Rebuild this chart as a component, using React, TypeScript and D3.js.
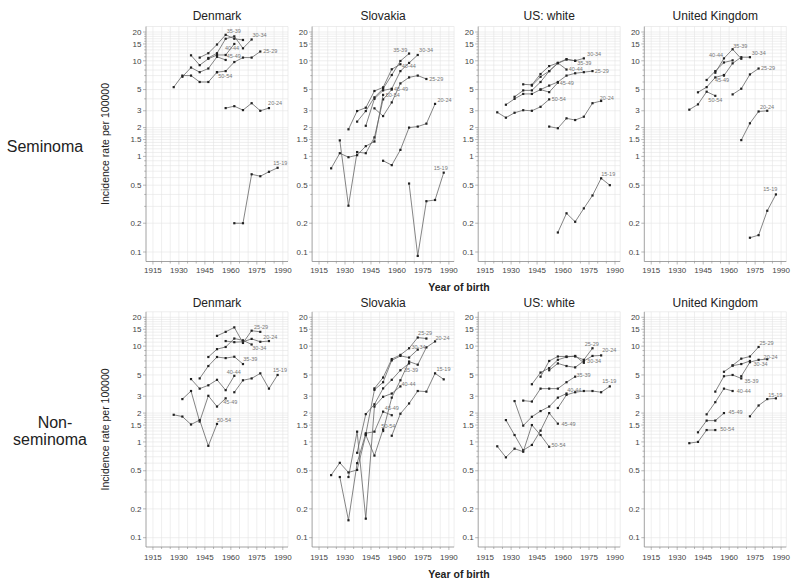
import React from "react";
import * as d3 from "d3";

type Series = { age: string; pts: [number, number][]; lab: [number, number] };

const countries = ["Denmark", "Slovakia", "US: white", "United Kingdom"];
const yTickValues = [0.1, 0.2, 0.5, 1, 1.5, 2, 3, 5, 10, 15, 20];
const xTickValues = [1915, 1930, 1945, 1960, 1975, 1990];
const xGridValues = [1915, 1920, 1925, 1930, 1935, 1940, 1945, 1950, 1955, 1960, 1965, 1970, 1975, 1980, 1985, 1990];
const yGridValues = [
  0.1, 0.2, 0.3, 0.4, 0.5, 0.6, 0.7, 0.8, 0.9, 1, 1.1, 1.2, 1.3, 1.4, 1.5, 1.6, 1.7, 1.8, 1.9, 2,
  3, 4, 5, 6, 7, 8, 9, 10, 11, 12, 13, 14, 15, 16, 17, 18, 19, 20,
];

// ---------- Seminoma ----------
const denmarkSem: Series[] = [
  { age: "15-19", pts: [[1962, 0.2], [1967, 0.2], [1972, 0.65], [1977, 0.62], [1982, 0.69], [1987, 0.76]], lab: [1984.5, 0.86] },
  { age: "20-24", pts: [[1957, 3.2], [1962, 3.35], [1967, 3.05], [1972, 3.6], [1977, 3.0], [1982, 3.2]], lab: [1981.5, 3.6] },
  { age: "25-29", pts: [[1952, 7.6], [1957, 7.8], [1962, 9.7], [1967, 10.8], [1972, 10.8], [1977, 12.5]], lab: [1978.7, 12.7] },
  { age: "30-34", pts: [[1947, 10.7], [1952, 12.0], [1957, 17], [1962, 18], [1967, 13.5], [1972, 16.7]], lab: [1972.5, 18.7] },
  { age: "35-39", pts: [[1942, 10.8], [1947, 12], [1952, 14.8], [1957, 18.7], [1962, 17.0], [1967, 16.5]], lab: [1957.6, 20.6] },
  { age: "40-44", pts: [[1937, 11.4], [1942, 9.0], [1947, 10.5], [1952, 11.5], [1957, 11.5], [1962, 15]], lab: [1956.6, 13.7] },
  { age: "45-49", pts: [[1932, 6.8], [1937, 8.5], [1942, 7.6], [1947, 8.3], [1952, 11], [1957, 10.2]], lab: [1957.6, 11.1] },
  { age: "50-54", pts: [[1927, 5.3], [1932, 7.0], [1937, 7.0], [1942, 6.0], [1947, 6.0], [1952, 7.6]], lab: [1952.7, 7.0] },
];

const slovakiaSem: Series[] = [
  { age: "15-19", pts: [[1967, 0.52], [1972, 0.091], [1977, 0.34], [1982, 0.35], [1987, 0.676]], lab: [1981.2, 0.75] },
  { age: "20-24", pts: [[1952, 0.9], [1957, 0.81], [1962, 1.17], [1967, 2.0], [1972, 2.05], [1977, 2.2], [1982, 3.54]], lab: [1983.4, 3.9] },
  { age: "25-29", pts: [[1947, 3.18], [1952, 2.64], [1957, 3.67], [1962, 5.8], [1967, 6.7], [1972, 7.0], [1977, 6.45]], lab: [1978.6, 6.4] },
  { age: "30-34", pts: [[1942, 2.09], [1947, 4.0], [1952, 4.9], [1957, 5.1], [1962, 7.8], [1967, 9.5], [1972, 11.5]], lab: [1972.8, 13] },
  { age: "35-39", pts: [[1937, 2.31], [1942, 2.98], [1947, 4.15], [1952, 5.1], [1957, 7.1], [1962, 9.95], [1967, 11.9]], lab: [1957.8, 13] },
  { age: "40-44", pts: [[1932, 1.92], [1937, 2.98], [1942, 3.23], [1947, 4.83], [1952, 5.27], [1957, 8.15], [1962, 9.2]], lab: [1962.8, 8.9] },
  { age: "45-49", pts: [[1927, 1.47], [1932, 0.305], [1937, 1.11], [1942, 1.08], [1947, 1.58], [1952, 3.95], [1957, 5.0]], lab: [1958.3, 5.0] },
  { age: "50-54", pts: [[1922, 0.75], [1927, 1.08], [1932, 0.98], [1937, 1.03], [1942, 1.28], [1947, 1.43], [1952, 4.4]], lab: [1953.5, 4.4] },
];

const usSem: Series[] = [
  { age: "15-19", pts: [[1957, 0.16], [1962, 0.254], [1967, 0.207], [1972, 0.286], [1977, 0.39], [1982, 0.59], [1987, 0.5]], lab: [1982, 0.65] },
  { age: "20-24", pts: [[1952, 2.05], [1957, 1.97], [1962, 2.5], [1967, 2.4], [1972, 2.6], [1977, 3.6], [1982, 3.8]], lab: [1981.2, 4.1] },
  { age: "25-29", pts: [[1947, 5.0], [1952, 5.5], [1957, 6.0], [1962, 7.0], [1967, 7.4], [1972, 7.6], [1977, 7.8]], lab: [1978.3, 7.8] },
  { age: "30-34", pts: [[1942, 5.5], [1947, 6.8], [1952, 7.8], [1957, 9.4], [1962, 10.3], [1967, 10.0], [1972, 10.6]], lab: [1973.9, 11.7] },
  { age: "35-39", pts: [[1937, 5.67], [1942, 5.6], [1947, 7.27], [1952, 8.8], [1957, 9.5], [1962, 10.4], [1967, 10.0]], lab: [1968.2, 9.4] },
  { age: "40-44", pts: [[1932, 4.2], [1937, 4.9], [1942, 4.9], [1947, 6.0], [1952, 7.8], [1957, 9.5], [1962, 8.1]], lab: [1963.3, 8.2] },
  { age: "45-49", pts: [[1927, 3.47], [1932, 4.0], [1937, 4.5], [1942, 4.5], [1947, 5.0], [1952, 4.7], [1957, 5.9]], lab: [1958.1, 5.9] },
  { age: "50-54", pts: [[1922, 2.89], [1927, 2.54], [1932, 2.86], [1937, 3.04], [1942, 3.0], [1947, 3.3], [1952, 3.95]], lab: [1953.5, 4.0] },
];

const ukSem: Series[] = [
  { age: "15-19", pts: [[1972, 0.141], [1977, 0.15], [1982, 0.27], [1987, 0.4]], lab: [1979.7, 0.45] },
  { age: "20-24", pts: [[1967, 1.48], [1972, 2.22], [1977, 2.95], [1982, 3.0]], lab: [1977.8, 3.3] },
  { age: "25-29", pts: [[1962, 4.45], [1967, 5.1], [1972, 7.2], [1977, 8.3]], lab: [1978.4, 8.3] },
  { age: "30-34", pts: [[1957, 7.0], [1962, 9.4], [1967, 10.9], [1972, 10.9]], lab: [1973, 11.9] },
  { age: "35-39", pts: [[1952, 7.5], [1957, 10.6], [1962, 13.2], [1967, 10.5]], lab: [1962.4, 14.3] },
  { age: "40-44", pts: [[1947, 6.3], [1952, 7.8], [1957, 9.6], [1962, 10.1]], lab: [1948.4, 11.5] },
  { age: "45-49", pts: [[1942, 4.68], [1947, 5.3], [1952, 6.7], [1957, 7.1]], lab: [1951.8, 6.3] },
  { age: "50-54", pts: [[1937, 3.08], [1942, 3.5], [1947, 4.75], [1952, 4.3]], lab: [1948, 3.9] },
];

// ---------- Non-seminoma ----------
const denmarkNon: Series[] = [
  { age: "15-19", pts: [[1962, 3.3], [1967, 4.4], [1972, 4.6], [1977, 5.2], [1982, 3.6], [1987, 5.0]], lab: [1984.3, 5.6] },
  { age: "20-24", pts: [[1957, 11.3], [1962, 11.0], [1967, 11.1], [1972, 11.9], [1977, 11.1], [1982, 11.3]], lab: [1978.7, 12.5] },
  { age: "25-29", pts: [[1952, 12.8], [1957, 14.1], [1962, 15.7], [1967, 10.8], [1972, 14.5], [1977, 14.1]], lab: [1973.4, 16.0] },
  { age: "30-34", pts: [[1947, 7.7], [1952, 9.3], [1957, 9.8], [1962, 12.0], [1967, 11.5], [1972, 10.4]], lab: [1972.4, 9.5] },
  { age: "35-39", pts: [[1942, 4.6], [1947, 6.2], [1952, 7.7], [1957, 7.5], [1962, 7.75], [1967, 6.5]], lab: [1967.2, 7.3] },
  { age: "40-44", pts: [[1937, 4.53], [1942, 3.6], [1947, 3.9], [1952, 4.45], [1957, 3.47], [1962, 4.9]], lab: [1957.6, 5.3] },
  { age: "45-49", pts: [[1932, 2.8], [1937, 3.4], [1942, 1.63], [1947, 3.03], [1952, 2.34], [1957, 2.85]], lab: [1955.6, 2.6] },
  { age: "50-54", pts: [[1927, 1.92], [1932, 1.84], [1937, 1.52], [1942, 1.69], [1947, 0.91], [1952, 1.54]], lab: [1952, 1.68] },
];

const slovakiaNon: Series[] = [
  { age: "15-19", pts: [[1957, 1.16], [1962, 1.97], [1967, 2.52], [1972, 3.4], [1977, 3.35], [1982, 5.2], [1987, 4.5]], lab: [1982.8, 5.7] },
  { age: "20-24", pts: [[1952, 1.3], [1957, 2.9], [1962, 4.4], [1967, 6.9], [1972, 6.4], [1977, 9.7], [1982, 11.2]], lab: [1982.2, 12.0] },
  { age: "25-29", pts: [[1947, 3.62], [1952, 4.7], [1957, 7.33], [1962, 8.1], [1967, 9.5], [1972, 12.3], [1977, 12.0]], lab: [1972.2, 13.8] },
  { age: "30-34", pts: [[1942, 1.2], [1947, 3.5], [1952, 4.2], [1957, 7.1], [1962, 7.9], [1967, 7.6], [1972, 9.2]], lab: [1968.4, 9.8] },
  { age: "35-39", pts: [[1937, 0.77], [1942, 1.95], [1947, 2.47], [1952, 3.62], [1957, 4.45], [1962, 5.6], [1967, 6.6]], lab: [1964.1, 5.6] },
  { age: "40-44", pts: [[1932, 0.43], [1937, 1.28], [1942, 0.158], [1947, 2.34], [1952, 2.96], [1957, 3.2], [1962, 3.8]], lab: [1962.6, 4.0] },
  { age: "45-49", pts: [[1927, 0.43], [1932, 0.152], [1937, 0.6], [1942, 1.23], [1947, 1.28], [1952, 2.07], [1957, 1.9]], lab: [1953, 2.25] },
  { age: "50-54", pts: [[1922, 0.45], [1927, 0.605], [1932, 0.48], [1937, 0.51], [1942, 1.18], [1947, 0.72], [1952, 1.35]], lab: [1951, 1.46] },
];

const usNon: Series[] = [
  { age: "15-19", pts: [[1957, 2.26], [1962, 3.1], [1967, 3.3], [1972, 3.4], [1977, 3.4], [1982, 3.3], [1987, 3.8]], lab: [1982.6, 4.3] },
  { age: "20-24", pts: [[1952, 5.6], [1957, 6.6], [1962, 6.2], [1967, 6.0], [1972, 7.0], [1977, 7.9], [1982, 8.0]], lab: [1982.6, 9.0] },
  { age: "25-29", pts: [[1947, 4.8], [1952, 7.0], [1957, 7.8], [1962, 7.8], [1967, 7.8], [1972, 7.2], [1977, 9.5]], lab: [1972.5, 10.5] },
  { age: "30-34", pts: [[1942, 4.0], [1947, 5.3], [1952, 5.9], [1957, 7.2], [1962, 7.7], [1967, 7.9], [1972, 6.7]], lab: [1973.9, 7.0] },
  { age: "35-39", pts: [[1937, 2.7], [1942, 2.64], [1947, 3.6], [1952, 3.6], [1957, 3.6], [1962, 4.2], [1967, 4.8]], lab: [1967.8, 5.0] },
  { age: "40-44", pts: [[1932, 2.67], [1937, 1.48], [1942, 1.83], [1947, 2.1], [1952, 2.34], [1957, 2.9], [1962, 3.2]], lab: [1962.4, 3.5] },
  { age: "45-49", pts: [[1927, 1.69], [1932, 1.18], [1937, 0.82], [1942, 0.93], [1947, 1.31], [1952, 2.0], [1957, 1.55]], lab: [1959.1, 1.53] },
  { age: "50-54", pts: [[1922, 0.9], [1927, 0.69], [1932, 0.85], [1937, 0.79], [1942, 1.5], [1947, 1.18], [1952, 0.89]], lab: [1953.3, 0.93] },
];

const ukNon: Series[] = [
  { age: "15-19", pts: [[1972, 1.85], [1977, 2.4], [1982, 2.8], [1987, 2.85]], lab: [1982.6, 3.1] },
  { age: "20-24", pts: [[1967, 4.85], [1972, 6.8], [1977, 7.2], [1982, 7.3]], lab: [1979.9, 7.7] },
  { age: "25-29", pts: [[1962, 6.3], [1967, 7.4], [1972, 7.8], [1977, 9.8]], lab: [1977.5, 10.8] },
  { age: "30-34", pts: [[1957, 5.4], [1962, 6.25], [1967, 6.5], [1972, 7.0]], lab: [1974.1, 6.5] },
  { age: "35-39", pts: [[1952, 3.35], [1957, 4.85], [1962, 5.0], [1967, 4.6]], lab: [1968.8, 4.35] },
  { age: "40-44", pts: [[1947, 1.94], [1952, 2.6], [1957, 3.6], [1962, 3.4]], lab: [1964.4, 3.4] },
  { age: "45-49", pts: [[1942, 1.26], [1947, 1.67], [1952, 1.67], [1957, 2.0]], lab: [1959.6, 2.06] },
  { age: "50-54", pts: [[1937, 0.97], [1942, 1.0], [1947, 1.33], [1952, 1.33]], lab: [1954.8, 1.36] },
];

const seminomaPanels = [denmarkSem, slovakiaSem, usSem, ukSem];
const nonSeminomaPanels = [denmarkNon, slovakiaNon, usNon, ukNon];

// ---------- layout ----------
const W = 800;
const H = 586;
const FONT = "'Liberation Sans', Arial, Helvetica, sans-serif";
const panelLeft0 = 146;
const panelStep = 166.1;
const panelW = 142;
const rowsLayout = [
  { y01: 252, y20: 32, top: 26.5, bottom: 261.5, title: 20, xlab: 272.5, yob: 291 },
  { y01: 537.7, y20: 317.3, top: 311.8, bottom: 547, title: 307, xlab: 559.5, yob: 578 },
];

function Panel({ row, col, data }: { row: number; col: number; data: Series[] }) {
  const L = rowsLayout[row];
  const left = panelLeft0 + col * panelStep;
  const right = left + panelW;
  const xs = d3.scaleLinear().domain([1911, 1993]).range([left, right]);
  const ys = d3.scaleLog().domain([0.1, 20]).range([L.y01, L.y20]);
  const line = d3
    .line<[number, number]>()
    .x((d) => xs(d[0]))
    .y((d) => ys(d[1]));
  const cx = (left + right) / 2;
  return (
    <g>
      <text x={cx} y={L.title} textAnchor="middle" fontSize={12} fill="#222" fontFamily={FONT}>
        {countries[col]}
      </text>
      {/* grid */}
      {yGridValues.map((v) => (
        <line key={"gy" + v} x1={left} x2={right} y1={ys(v)} y2={ys(v)} stroke="#e4e4e4" strokeWidth={0.6} />
      ))}
      {xGridValues.map((v) => (
        <line key={"gx" + v} x1={xs(v)} x2={xs(v)} y1={L.top} y2={L.bottom} stroke="#e4e4e4" strokeWidth={0.6} />
      ))}
      <line x1={left} x2={right} y1={L.top} y2={L.top} stroke="#e0e0e0" strokeWidth={0.6} />
      <line x1={right} x2={right} y1={L.top} y2={L.bottom} stroke="#e0e0e0" strokeWidth={0.6} />
      {/* axes */}
      <line x1={left} x2={left} y1={L.top} y2={L.bottom} stroke="#8a8a8a" strokeWidth={0.8} />
      <line x1={left} x2={right} y1={L.bottom} y2={L.bottom} stroke="#8a8a8a" strokeWidth={0.8} />
      {yGridValues.map((v) => (
        <line key={"ty" + v} x1={left - (yTickValues.includes(v) ? 3 : 1.8)} x2={left} y1={ys(v)} y2={ys(v)} stroke="#8a8a8a" strokeWidth={0.6} />
      ))}
      {yTickValues.map((v) => (
        <text key={"ly" + v} x={left - 4.5} y={ys(v)} dy="0.34em" textAnchor="end" fontSize={8} fill="#444" fontFamily={FONT}>
          {String(v)}
        </text>
      ))}
      {xGridValues.map((v) => (
        <line key={"tx" + v} x1={xs(v)} x2={xs(v)} y1={L.bottom} y2={L.bottom + (xTickValues.includes(v) ? 3 : 2)} stroke="#8a8a8a" strokeWidth={0.6} />
      ))}
      {xTickValues.map((v) => (
        <text key={"lx" + v} x={xs(v)} y={L.xlab} textAnchor="middle" fontSize={8} fill="#444" fontFamily={FONT}>
          {String(v)}
        </text>
      ))}
      {/* series */}
      {data.map((s) => (
        <g key={s.age}>
          <path d={line(s.pts) || ""} fill="none" stroke="#666" strokeWidth={0.8} />
          {s.pts.map((p, i) => (
            <rect key={i} x={xs(p[0]) - 1.1} y={ys(p[1]) - 1.1} width={2.2} height={2.2} fill="#222" />
          ))}
          <text x={xs(s.lab[0])} y={ys(s.lab[1])} dy="0.35em" fontSize={5.5} fill="#777" fontFamily={FONT}>
            {s.age}
          </text>
        </g>
      ))}
    </g>
  );
}

export default function App() {
  return (
    <svg width={W} height={H} style={{ display: "block", position: "absolute", left: 0, top: 0, background: "#fff" }}>
      <rect x={0} y={0} width={W} height={H} fill="#fff" />
      {seminomaPanels.map((d, i) => (
        <Panel key={"s" + i} row={0} col={i} data={d} />
      ))}
      {nonSeminomaPanels.map((d, i) => (
        <Panel key={"n" + i} row={1} col={i} data={d} />
      ))}
      {/* row labels */}
      <text x={45} y={146} dy="0.35em" textAnchor="middle" fontSize={16} fill="#222" fontFamily={FONT}>
        Seminoma
      </text>
      <text x={55} y={422.7} dy="0.35em" textAnchor="middle" fontSize={16} fill="#222" fontFamily={FONT}>
        Non-
      </text>
      <text x={50} y={439.5} dy="0.35em" textAnchor="middle" fontSize={16} fill="#222" fontFamily={FONT}>
        seminoma
      </text>
      {/* y axis titles */}
      {rowsLayout.map((L, r) => (
        <text
          key={"yt" + r}
          transform={`translate(105,${(L.top + L.bottom) / 2}) rotate(-90)`}
          dy="0.35em"
          textAnchor="middle"
          fontSize={10.5}
          fill="#222"
          fontFamily={FONT}
        >
          Incidence rate per 100000
        </text>
      ))}
      {rowsLayout.map((L, r) => (
        <text key={"xt" + r} x={459} y={L.yob} textAnchor="middle" fontSize={10.5} fontWeight="bold" fill="#222" fontFamily={FONT}>
          Year of birth
        </text>
      ))}
    </svg>
  );
}
